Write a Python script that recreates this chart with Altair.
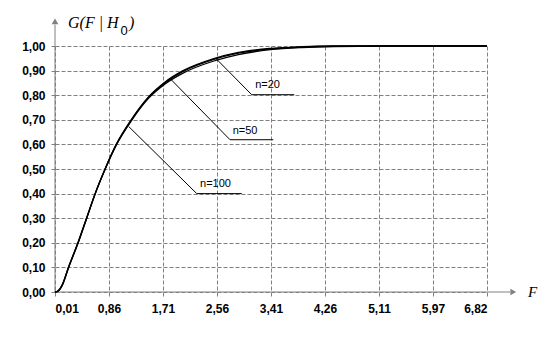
import altair as alt
import pandas as pd

# ---- curve readings (F, G(F|H0)) ----
F_vals = [0.01, 0.06, 0.12, 0.225, 0.375, 0.51, 0.645, 0.80, 0.975, 1.21, 1.49, 1.75,
          2.02, 2.50, 2.90, 3.40, 3.90, 4.40, 5.20, 6.816]
G_n100 = [0.0, 0.004, 0.025, 0.100, 0.200, 0.300, 0.400, 0.500, 0.600, 0.700, 0.795, 0.855,
          0.899, 0.948, 0.974, 0.990, 0.997, 1.0, 1.0, 1.0]
G_n50 = [0.0, 0.004, 0.026, 0.101, 0.201, 0.301, 0.401, 0.500, 0.599, 0.698, 0.793, 0.852,
         0.896, 0.945, 0.971, 0.988, 0.996, 0.999, 1.0, 1.0]
G_n20 = [0.0, 0.005, 0.027, 0.103, 0.203, 0.303, 0.402, 0.500, 0.597, 0.695, 0.789, 0.847,
         0.889, 0.938, 0.965, 0.985, 0.994, 0.998, 1.0, 1.0]

# ---- annotations ----
ann_text = ["n=20", "n=50", "n=100"]
ann_F_curve = [2.55, 1.822, 1.17]
ann_G_curve = [0.948, 0.868, 0.673]
ann_F_elbow = [3.109, 2.767, 2.243]
ann_G_elbow = [0.802, 0.619, 0.400]
ann_F_end = [3.780, 3.449, 2.952]
ann_F_text = [3.163, 2.809, 2.295]
ann_G_text = [0.830, 0.643, 0.428]

# ---- axes ----
x_ticks = [0.01, 0.86075, 1.7115, 2.56225, 3.413, 4.26375, 5.1145, 5.96525, 6.816]
y_ticks = [0.0, 0.1, 0.2, 0.3, 0.4, 0.5, 0.6, 0.7, 0.8, 0.9, 1.0]
x_domain = [0.01, 6.816]
y_domain = [0.0, 1.0]
x_axis_end = 7.18
y_axis_end = 1.087

rows = []
for name, g in [("n=100", G_n100), ("n=50", G_n50), ("n=20", G_n20)]:
    for f, v in zip(F_vals, g):
        rows.append({"F": f, "G": v, "n": name})
curves = pd.DataFrame(rows)

ann = pd.DataFrame({
    "text": ann_text, "Fc": ann_F_curve, "Gc": ann_G_curve,
    "Fe": ann_F_elbow, "Ge": ann_G_elbow, "Fend": ann_F_end,
    "Ft": ann_F_text, "Gt": ann_G_text,
})

GRAY = "#808080"
xs = alt.Scale(domain=x_domain, nice=False, zero=False)
ys = alt.Scale(domain=y_domain, nice=False, zero=False)
lab = "replace(format(datum.value, '.2f'), '.', ',')"

xaxis = alt.Axis(values=x_ticks, labelExpr=lab, grid=True, gridDash=[4, 2], gridColor=GRAY,
                 gridOpacity=1, domain=False, tickColor=GRAY, tickSize=4, labelFont="Liberation Sans",
                 labelFontWeight="bold", labelFontSize=12, labelColor="black", labelPadding=7,
                 title=None)
yaxis = alt.Axis(values=y_ticks, labelExpr=lab, grid=True, gridDash=[4, 2], gridColor=GRAY,
                 gridOpacity=1, domain=False, tickColor=GRAY, tickSize=4, labelFont="Liberation Sans",
                 labelFontWeight="bold", labelFontSize=12, labelColor="black", labelPadding=6,
                 title=None)


def X(field):
    return alt.X(field, type="quantitative", scale=xs, axis=xaxis)


def Y(field):
    return alt.Y(field, type="quantitative", scale=ys, axis=yaxis)


lines = alt.Chart(curves).mark_line(color="black", strokeWidth=1.3, interpolate="monotone").encode(
    x=X("F"), y=Y("G"), detail="n:N")

leaders = alt.Chart(ann).mark_rule(color="black", strokeWidth=1).encode(
    x=X("Fc"), x2="Fe", y=Y("Gc"), y2="Ge")
shelves = alt.Chart(ann).mark_rule(color="black", strokeWidth=1).encode(
    x=X("Fe"), x2="Fend", y=Y("Ge"))
labels = alt.Chart(ann).mark_text(align="left", baseline="alphabetic", font="Liberation Sans",
                                  fontSize=11, color="black").encode(
    x=X("Ft"), y=Y("Gt"), text="text")

axes_df = pd.DataFrame({"x0": [x_domain[0], x_domain[0]], "x1": [x_axis_end, x_domain[0]],
                        "y0": [0.0, 0.0], "y1": [0.0, y_axis_end]})
axis_lines = alt.Chart(axes_df).mark_rule(color=GRAY, strokeWidth=1).encode(
    x=X("x0"), x2="x1", y=Y("y0"), y2="y1")

arrows_df = pd.DataFrame({"x": [7.23, 0.01], "y": [0.0, 1.10], "shape": ["triangle-right", "triangle-up"]})
arrows = alt.Chart(arrows_df).mark_point(filled=True, color=GRAY, opacity=1, size=45).encode(
    x=X("x"), y=Y("y"), shape=alt.Shape("shape:N", scale=None))

title_x = [0.215, 1.176]
title_y = [1.074, 1.074]
title_t = ["G(F | H", ")"]
sub_x = [1.04]
sub_y = [1.046]
sub_t = ["0"]
faxis_x = [7.46]
faxis_y = [0.0]
faxis_t = ["F"]

titles_main = alt.Chart(pd.DataFrame({"x": title_x, "y": title_y, "t": title_t})).mark_text(
    align="left", baseline="alphabetic", font="Liberation Serif", fontStyle="italic",
    fontSize=16, color="black").encode(x=X("x"), y=Y("y"), text="t:N")
titles_sub = alt.Chart(pd.DataFrame({"x": sub_x, "y": sub_y, "t": sub_t})).mark_text(
    align="left", baseline="alphabetic", font="Liberation Sans",
    fontSize=13, color="black").encode(x=X("x"), y=Y("y"), text="t:N")
titles_f = alt.Chart(pd.DataFrame({"x": faxis_x, "y": faxis_y, "t": faxis_t})).mark_text(
    align="left", baseline="middle", font="Liberation Serif", fontStyle="italic",
    fontSize=15, color="black").encode(x=X("x"), y=Y("y"), text="t:N")

chart = alt.layer(axis_lines, lines, leaders, shelves, labels, arrows,
                  titles_main, titles_sub, titles_f).properties(
    width=432, height=246,
    autosize=alt.AutoSizeParams(type="none"),
    padding={"left": 55, "top": 46, "right": 66, "bottom": 61},
    background="white",
).configure_view(stroke=None)

chart.save("out.html", embed_options={"renderer": "svg", "actions": False})
